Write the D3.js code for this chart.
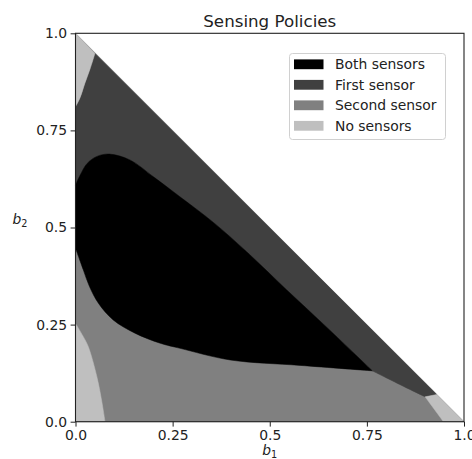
<!DOCTYPE html>
<html>
<head>
<meta charset="utf-8">
<script src="https://cdn.jsdelivr.net/npm/d3@7"></script>
<style>
  body { margin: 0; background: #fff; }
  svg { display: block; font-family: "DejaVu Sans", sans-serif; }
</style>
</head>
<body>
<svg id="chart" width="472" height="459"></svg>
<script>
// Sensing policy regions over the belief simplex (b1 + b2 <= 1)

const categories = ["Both sensors", "First sensor", "Second sensor", "No sensors"];
const tickValues = [0, 0.25, 0.5, 0.75, 1.0];
const tickLabels = ["0.0", "0.25", "0.5", "0.75", "1.0"];

// region boundaries, as [b1, b2]
const simplex = [[0, 0], [1, 0], [0, 1]];
const bothTop = [[0, 0.609], [0.012, 0.635], [0.03, 0.665], [0.055, 0.683], [0.087, 0.689],
  [0.14, 0.674], [0.2, 0.631], [0.269, 0.579], [0.355, 0.513], [0.44, 0.438],
  [0.544, 0.339], [0.65, 0.24], [0.764, 0.131]];
const bothBottom = [[0, 0.447], [0.02, 0.391], [0.036, 0.348], [0.059, 0.305], [0.097, 0.262],
  [0.153, 0.228], [0.218, 0.202], [0.269, 0.189], [0.398, 0.159], [0.578, 0.145], [0.764, 0.131]];
const firstLower = [[0.764, 0.131], [0.83, 0.098], [0.9, 0.064]];
const firstDiagEnd = [0.93, 0.07];
const noneTopLeft = [[0, 0.811], [0.012, 0.835], [0.024, 0.871], [0.037, 0.907], [0.05, 0.948]];
const noneBottomLeft = [[0, 0.253], [0.02, 0.219], [0.033, 0.193], [0.055, 0.116], [0.067, 0.056], [0.076, 0]];
const noneBottomRight = [[0.9, 0.064], [0.925, 0.03], [0.947, 0]];

const margin = { left: 75.5, right: 464, top: 33.3, bottom: 421.7 };
const x = d3.scaleLinear([0, 1], [margin.left, margin.right]);
const y = d3.scaleLinear([0, 1], [margin.bottom, margin.top]);
const color = d3.scaleOrdinal(categories, ["#000000", "#404040", "#808080", "#bfbfbf"]);

const svg = d3.select("#chart");

// join several boundary pieces into one closed path
// (curved pieces are smoothed, corner points are plain)
const curve = d3.line().x(d => x(d[0])).y(d => y(d[1])).curve(d3.curveCatmullRom);
function region(...pieces) {
  let s = "";
  pieces.forEach((p, i) => {
    const seg = p.length === 1 ? `M${x(p[0][0])},${y(p[0][1])}` : curve(p);
    s += i === 0 ? seg : "L" + seg.slice(1);
  });
  return s + "Z";
}
const rev = a => a.slice().reverse();
const corners = a => a.map(p => [p]);

const shapes = [
  { cat: "Second sensor", d: region(...corners(simplex)) },
  { cat: "First sensor", d: region(noneTopLeft, [firstDiagEnd], rev(firstLower), rev(bothTop)) },
  { cat: "Both sensors", d: region(bothTop, rev(bothBottom)) },
  { cat: "No sensors", d: region(noneTopLeft, [[0, 1]]) },
  { cat: "No sensors", d: region(noneBottomLeft, [[0, 0]]) },
  { cat: "No sensors", d: region(noneBottomRight, [[1, 0]], [firstDiagEnd]) }
];

svg.append("g")
  .selectAll("path")
  .data(shapes)
  .join("path")
  .attr("d", d => d.d)
  .attr("fill", d => color(d.cat))
  .attr("stroke", d => color(d.cat))
  .attr("stroke-width", 0.5);

// axes
const xAxis = d3.axisBottom(x).tickValues(tickValues).tickFormat((d, i) => tickLabels[i])
  .tickSize(4.9).tickPadding(3.5);
const yAxis = d3.axisLeft(y).tickValues(tickValues).tickFormat((d, i) => tickLabels[i])
  .tickSize(4.9).tickPadding(3.5);

const gx = svg.append("g").attr("transform", `translate(0,${margin.bottom})`).call(xAxis);
const gy = svg.append("g").attr("transform", `translate(${margin.left},0)`).call(yAxis);
[gx, gy].forEach(g => {
  g.select(".domain").remove();
  g.selectAll("text").attr("font-size", 13.9).attr("fill", "#222").attr("font-family", "DejaVu Sans");
  g.selectAll("line").attr("stroke", "#222");
});

svg.append("rect")
  .attr("x", margin.left).attr("y", margin.top)
  .attr("width", margin.right - margin.left).attr("height", margin.bottom - margin.top)
  .attr("fill", "none").attr("stroke", "#222").attr("stroke-width", 1.1);

// title and labels
svg.append("text")
  .attr("x", (margin.left + margin.right) / 2).attr("y", 26.5)
  .attr("text-anchor", "middle").attr("font-size", 16.7).attr("fill", "#222")
  .text("Sensing Policies");

const xl = svg.append("text")
  .attr("x", (margin.left + margin.right) / 2).attr("y", 455)
  .attr("text-anchor", "middle").attr("font-size", 13.9).attr("fill", "#222");
xl.append("tspan").attr("font-style", "italic").text("b");
xl.append("tspan").attr("font-size", 9.7).attr("dy", 2.5).text("1");

const yl = svg.append("text")
  .attr("x", 20).attr("y", 224)
  .attr("text-anchor", "middle").attr("font-size", 13.9).attr("fill", "#222");
yl.append("tspan").attr("font-style", "italic").text("b");
yl.append("tspan").attr("font-size", 9.7).attr("dy", 2.5).text("2");

// legend
const legend = svg.append("g").attr("transform", "translate(289.5,53.5)");
legend.append("rect")
  .attr("width", 156).attr("height", 86).attr("rx", 3)
  .attr("fill", "#fff").attr("fill-opacity", 0.8)
  .attr("stroke", "#d0d0d0").attr("stroke-width", 1);
const item = legend.selectAll("g.item")
  .data(categories)
  .join("g")
  .attr("class", "item")
  .attr("transform", (d, i) => `translate(0,${10.8 + i * 20.5})`);
item.append("rect")
  .attr("x", 4.5).attr("y", -4.9).attr("width", 29.5).attr("height", 9.8)
  .attr("fill", d => color(d));
item.append("text")
  .attr("x", 45.5).attr("y", 5)
  .attr("font-size", 13.9).attr("fill", "#222")
  .text(d => d);
</script>
</body>
</html>
